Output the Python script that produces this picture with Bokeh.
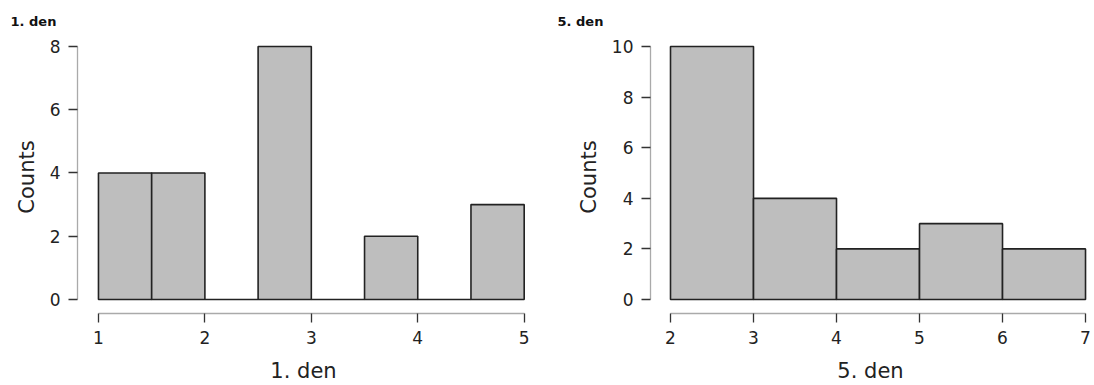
from bokeh.plotting import figure
from bokeh.layouts import row
from bokeh.models import FixedTicker, Range1d
from bokeh.embed import file_html
from bokeh.resources import INLINE

FONT = "DejaVu Sans"

# Day 1 histogram: bin edges and counts
day1_edges = [1.0, 1.5, 2.0, 2.5, 3.0, 3.5, 4.0, 4.5, 5.0]
day1_counts = [4, 4, 0, 8, 0, 2, 0, 3]
day1_xticks = [1, 2, 3, 4, 5]
day1_yticks = [0, 2, 4, 6, 8]

# Day 5 histogram: bin edges and counts
day5_edges = [2, 3, 4, 5, 6, 7]
day5_counts = [10, 4, 2, 3, 2]
day5_xticks = [2, 3, 4, 5, 6, 7]
day5_yticks = [0, 2, 4, 6, 8, 10]


def histogram(title, xlabel, edges, counts, xticks, yticks, x_range, y_range,
              width, border_left, border_right):
    p = figure(width=width, height=385, output_backend="svg",
               toolbar_location=None, x_range=Range1d(*x_range),
               y_range=Range1d(*y_range), min_border_left=border_left,
               min_border_top=40, min_border_right=border_right,
               min_border_bottom=10)
    p.title.text = title
    p.title.text_font = FONT
    p.title.text_font_size = "13px"
    p.title.text_font_style = "bold"
    p.title.text_color = "#111111"
    p.title.align = "left"
    p.title.offset = -(border_left - 10)
    p.title.standoff = 23
    p.quad(left=edges[:-1], right=edges[1:], bottom=0, top=counts,
           fill_color="#bebebe", line_color="#222222", line_width=1.6)
    p.grid.visible = False
    p.outline_line_color = None
    p.background_fill_color = "white"
    p.border_fill_color = "white"

    p.xaxis.ticker = FixedTicker(ticks=xticks)
    p.yaxis.ticker = FixedTicker(ticks=yticks)
    p.xaxis.bounds = (xticks[0], xticks[-1])
    p.yaxis.bounds = (yticks[0], yticks[-1])
    p.xaxis.axis_label = xlabel
    p.yaxis.axis_label = "Counts"
    for ax in (p.xaxis, p.yaxis):
        ax.axis_line_color = "#aaaaaa"
        ax.axis_line_width = 1.3
        ax.major_tick_line_color = "#333333"
        ax.major_tick_line_width = 1.3
        ax.major_tick_out = 9
        ax.major_tick_in = 0
        ax.minor_tick_line_color = None
        ax.major_label_text_font = FONT
        ax.major_label_text_font_size = "17px"
        ax.major_label_text_color = "#222222"
        ax.axis_label_text_font = FONT
        ax.axis_label_text_font_size = "21px"
        ax.axis_label_text_font_style = "normal"
        ax.axis_label_text_color = "#222222"
    p.xaxis.major_label_standoff = 8
    p.yaxis.major_label_standoff = 8
    p.xaxis.axis_label_standoff = 12
    p.yaxis.axis_label_standoff = 8
    return p


left = histogram("1. den", "1. den", day1_edges, day1_counts, day1_xticks,
                 day1_yticks, (0.803, 5.05), (-0.443, 8.19), 547, 77, 18)
right = histogram("5. den", "5. den", day5_edges, day5_counts, day5_xticks,
                  day5_yticks, (1.759, 7.06), (-0.553, 10.24), 547, 103, 4)

layout = row(left, right)
open("out.html", "w").write(file_html(layout, INLINE))
